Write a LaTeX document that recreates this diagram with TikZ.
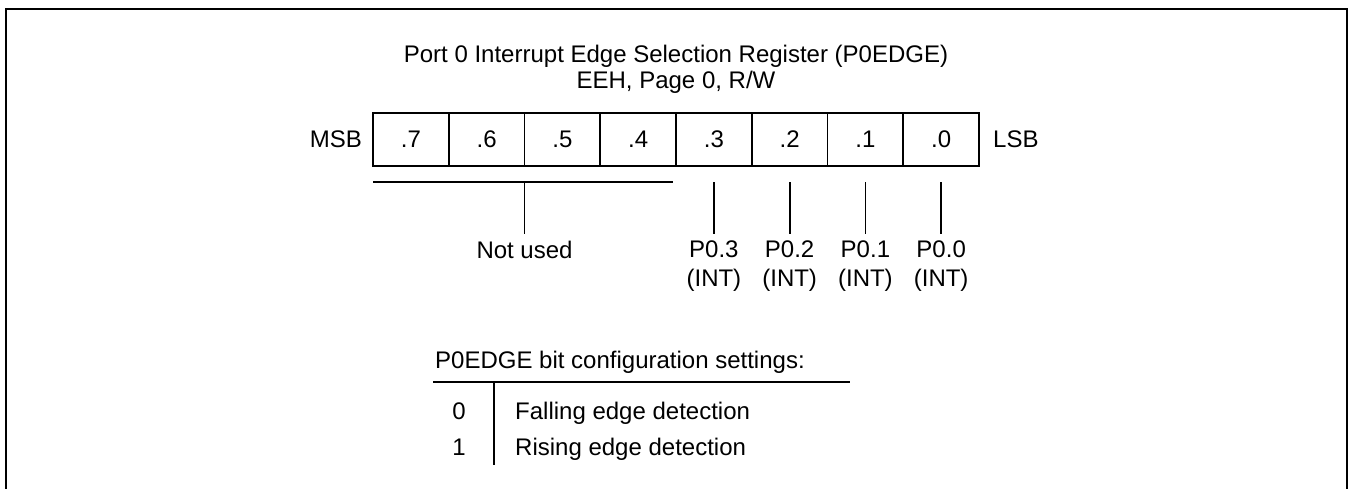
\documentclass[tikz,border=0pt]{standalone}
\usepackage{fontspec}
\setmainfont{Liberation Sans}
\usetikzlibrary{positioning, calc}
\tikzset{
  txt/.style={font=\fontsize{24}{29}\selectfont, inner sep=0pt},
  regcell/.style={rectangle, draw, line width=1.8pt, minimum width=75.75pt, minimum height=53pt, inner sep=0pt, outer sep=0pt, font=\fontsize{24}{29}\selectfont},
  bitlabel/.style={txt, align=center, anchor=north, inner ysep=7pt},
  line/.style={line width=1.8pt, color=black}
}

\begin{document}
\begin{tikzpicture}[x=1pt, y=-1pt]
  \useasboundingbox (0,0) rectangle (1351,488);
  % Outer frame
  \draw[line width=2.3pt] (6.2,490) -- (6.2,9) -- (1346.7,9) -- (1346.7,490);

  % Title
  \node[txt, align=center, anchor=north, font=\fontsize{24}{26}\selectfont] (title) at (676,44.5) {Port 0 Interrupt Edge Selection Register (P0EDGE)\\EEH, Page 0, R/W};

  % Register cells
  \foreach \b [count=\i from 0] in {7,...,0}
    \node[regcell] (b\b) at (410.9+75.75*\i, 139.5) {.\b};
  \node[txt, left=11pt of b7] (msb) {MSB};
  \node[txt, right=14pt of b0] (lsb) {LSB};

  % Bit brackets
  \coordinate (bar) at (0,182);
  \coordinate (lblrow) at (0,234);
  \draw[line] (b7.west |- bar) -- ([xshift=-3pt]b4.east |- bar);
  \node[bitlabel] (notused) at (b6.east |- lblrow) {Not used};
  \draw[line] (b6.east |- bar) -- (notused);
  \foreach \b in {3,...,0} {
    \node[bitlabel] (p\b) at (b\b |- lblrow) {P0.\b\\(INT)};
    \draw[line] (b\b |- bar) -- (p\b);
  }

  % Configuration settings
  \node[txt, anchor=base west] (cfg) at (435,368) {P0EDGE bit configuration settings:};
  \coordinate (rl) at (433,382);
  \coordinate (rr) at (850,382);
  \coordinate (vt) at (494,382);
  \coordinate (vb) at (494,465);
  \draw[line] (rl) -- (rr);
  \draw[line] (vt) -- (vb);
  \node[txt, anchor=base] (v0) at (459,419) {0};
  \node[txt, anchor=base west] (d0) at (515,419) {Falling edge detection};
  \node[txt, anchor=base] (v1) at (459,455) {1};
  \node[txt, anchor=base west] (d1) at (515,455) {Rising edge detection};
\end{tikzpicture}
\end{document}
